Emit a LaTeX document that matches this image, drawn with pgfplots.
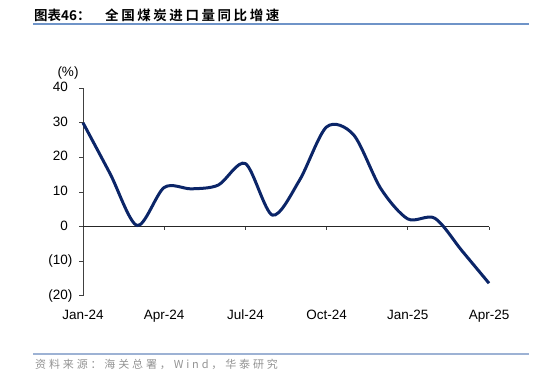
\documentclass[border=0pt]{standalone}
\usepackage{fontspec}
\usepackage{pgfplots}
\pgfplotsset{compat=1.18}
\setmainfont{Liberation Sans}
\newfontfamily\cjkb{Noto Sans CJK SC Bold}
\newfontfamily\cjkbs[LetterSpace=19]{Noto Sans CJK SC Bold}
\newfontfamily\cjks[LetterSpace=26]{Noto Sans CJK SC}
\definecolor{navy}{HTML}{0B2568}
\definecolor{rule1}{HTML}{6F94C8}
\definecolor{rule2}{HTML}{9DB2D4}
\definecolor{srcgray}{HTML}{939393}
\begin{document}
\begin{tikzpicture}
\path (0pt,0pt) rectangle (534pt,378pt);
% title
\node[anchor=west,inner sep=0pt] at (34pt,363pt) {\fontsize{13.5}{15}\cjkb 图表46：};
\node[anchor=west,inner sep=0pt] at (105pt,363pt) {\fontsize{13.5}{15}\cjkbs 全国煤炭进口量同比增速};
\draw[rule1,line width=1.5pt] (33pt,354pt) -- (529pt,354pt);
% source
\draw[rule2,line width=1.5pt] (33pt,24pt) -- (529pt,24pt);
\node[anchor=west,inner sep=0pt,text=srcgray] at (35pt,14pt) {\fontsize{11}{12}\cjks 资料来源：海关总署，Wind，华泰研究};
\begin{axis}[
  at={(83pt,82.3pt)}, anchor=south west,
  scale only axis, width=406pt, height=207.5pt,
  xmin=0, xmax=15, ymin=-20, ymax=40,
  clip=false,
  axis y line*=left,
  axis x line*=bottom,
  x axis line style={draw=none},
  y axis line style={draw=black!75, line width=0.8pt},
  xtick={0,3,6,9,12,15},
  xticklabels={Jan-24,Apr-24,Jul-24,Oct-24,Jan-25,Apr-25},
  major x tick style={draw=none},
  ytick={-20,-10,0,10,20,30,40},
  yticklabels={(20),(10),0\phantom{)},10\phantom{)},20\phantom{)},30\phantom{)},40\phantom{)}},
  tick align=outside,
  major tick length=4pt,
  major y tick style={draw=black!75, line width=0.8pt},
  tick label style={font=\fontsize{13.5}{16}\selectfont},
  yticklabel style={xshift=-3pt},
  xticklabel style={yshift=-6pt, text height=10pt, text depth=3pt},
]
\draw[black!85, line width=0.8pt] (axis cs:0,0) -- (axis cs:15,0);
\pgfplotsinvokeforeach{0,3,6,9,12,15}{
  \draw[black!75, line width=0.8pt] (axis cs:#1,0) -- ++(0pt,-3.5pt);
}
\addplot[navy, line width=3pt, smooth, tension=0.5] coordinates {
(0,30) (1,15.3) (2,0.3) (3,11.3) (4,10.9) (5,12.0) (6,18.2) (7,3.3)
(8,13.4) (9,28.8) (10,26.5) (11,11.0) (12,2.2) (13,2.4) (14,-7.0) (15,-16.4)
};
\end{axis}
\node[inner sep=0pt] at (68pt,305pt) {\fontsize{13.5}{16}\selectfont (\%)};
\end{tikzpicture}
\end{document}
